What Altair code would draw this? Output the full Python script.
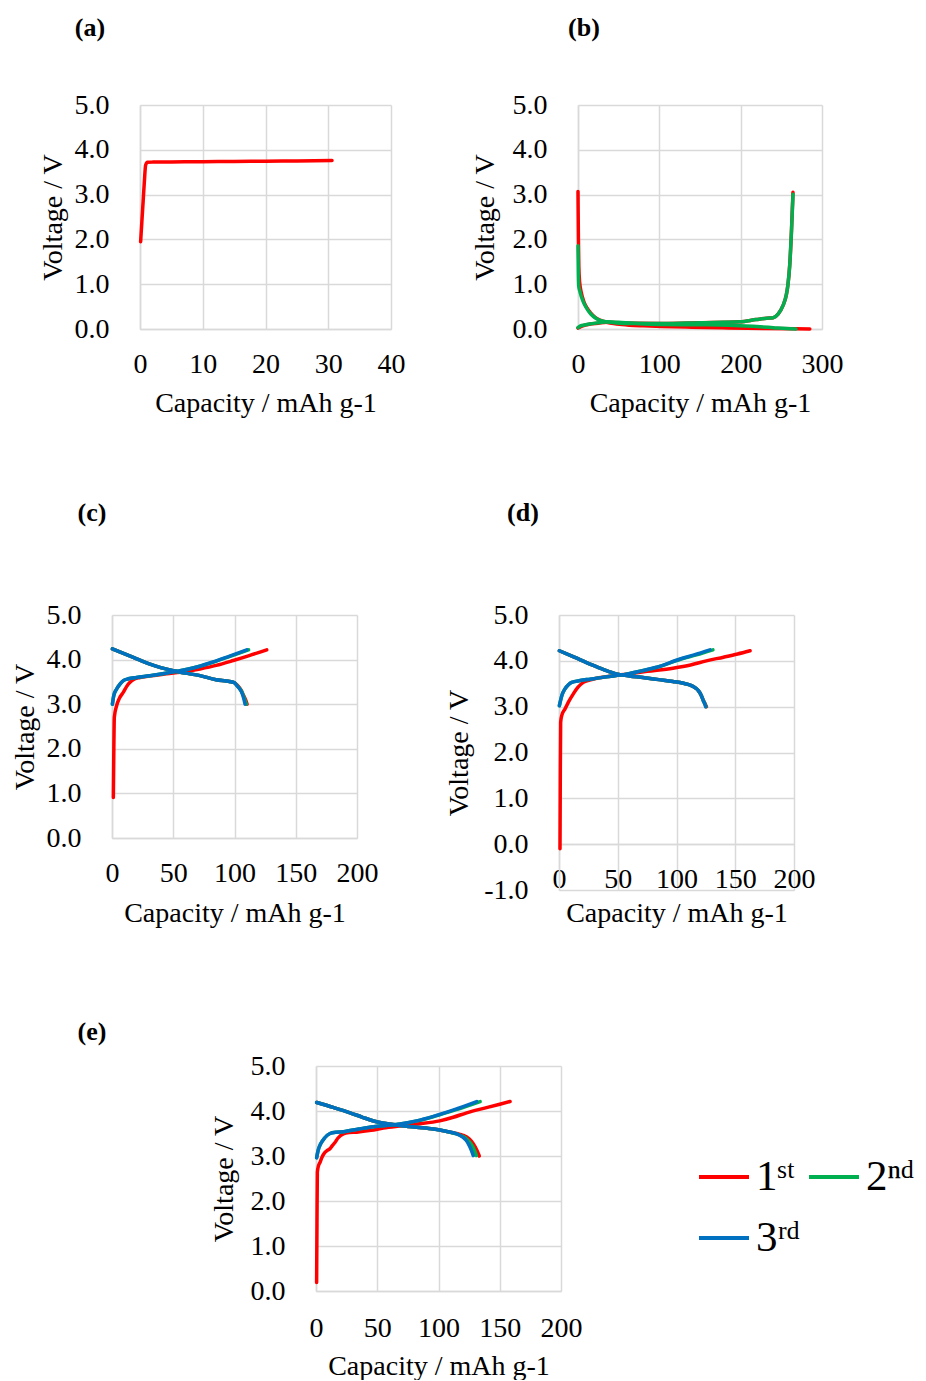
import altair as alt
import pandas as pd

# ---------------- labels / styling lists ----------------
CYCLES = ["1st", "2nd", "3rd"]
CYCLE_LABELS = ["1ˢᵗ", "2ⁿᵈ", "3ʳᵈ"]
COLORS = ["#FF0000", "#00B050", "#0070C0"]
PANEL_LABELS = ["(a)", "(b)", "(c)", "(d)", "(e)"]
X_TITLE = "Capacity / mAh g-1"
Y_TITLE = "Voltage / V"

# ---------------- panel (a) ----------------
A_1C_CAP = [0.1, 0.3, 0.5, 0.7, 0.9, 1.2, 2.0, 5, 10, 15, 20, 25, 30.6]
A_1C_V = [1.95, 2.4, 2.85, 3.3, 3.66, 3.72, 3.725, 3.73, 3.735, 3.74, 3.745, 3.752, 3.76]

# ---------------- panel (b) ----------------
B_1D_CAP = [0, 0.2, 0.5, 1.0, 2, 4, 7, 11, 16, 21, 27, 35, 48, 63, 80, 104, 140, 186, 230, 268, 285]
B_1D_V = [3.07, 2.6, 2.0, 1.4, 1.05, 0.82, 0.62, 0.47, 0.35, 0.26, 0.2, 0.15, 0.11, 0.085, 0.07, 0.055, 0.04, 0.025, 0.012, 0.003, 0.0]
B_1C_CAP = [0, 4, 9, 15, 25, 35, 50, 70, 104, 150, 199, 219, 232, 240, 246, 252, 256, 258, 260.3, 262.4, 264.3]
B_1C_V = [0.02, 0.06, 0.09, 0.11, 0.13, 0.15, 0.14, 0.13, 0.125, 0.14, 0.16, 0.21, 0.24, 0.25, 0.33, 0.52, 0.75, 0.97, 1.42, 2.16, 3.05]
B_2D_CAP = [0, 0.3, 0.8, 2, 4, 6, 10, 16, 22, 27, 35, 51, 70, 104, 150, 186, 215, 240, 256, 268]
B_2D_V = [1.86, 1.35, 0.97, 0.86, 0.73, 0.63, 0.48, 0.33, 0.24, 0.19, 0.16, 0.13, 0.12, 0.1, 0.095, 0.085, 0.06, 0.03, 0.01, 0.0]
B_2C_CAP = [0, 3, 8, 14, 25, 35, 50, 70, 104, 150, 199, 219, 232, 240, 246, 252, 256, 258, 260.3, 262.4, 264.4]
B_2C_V = [0.03, 0.07, 0.09, 0.11, 0.14, 0.16, 0.15, 0.13, 0.12, 0.14, 0.16, 0.21, 0.24, 0.25, 0.33, 0.52, 0.75, 0.97, 1.42, 2.16, 3.01]

# ---------------- panel (c) ----------------
C_1C_CAP = [1.1, 1.5, 1.9, 3.8, 6, 9.3, 12, 14.7, 18, 22.9, 30, 44.6, 60, 71.8, 85, 99, 112, 126.3]
C_1C_V = [0.91, 2.0, 2.71, 2.97, 3.13, 3.27, 3.4, 3.49, 3.56, 3.6, 3.63, 3.68, 3.73, 3.79, 3.87, 3.98, 4.09, 4.22]
C_1D_CAP = [0.3, 17.4, 31, 50, 71.8, 85, 96, 100, 102.5, 105, 107, 109, 110.3]
C_1D_V = [4.24, 4.05, 3.9, 3.75, 3.64, 3.55, 3.51, 3.48, 3.42, 3.33, 3.22, 3.1, 3.0]
C_2C_CAP = [0.3, 1.5, 3.8, 6.5, 9.3, 13.4, 20, 31, 45, 55.5, 70, 83.5, 97, 111.5]
C_2C_V = [3.0, 3.2, 3.34, 3.45, 3.53, 3.57, 3.6, 3.64, 3.7, 3.75, 3.84, 3.95, 4.08, 4.22]
C_2D_CAP = [0.3, 17.4, 31, 50, 71.8, 85, 96, 100, 102, 104.2, 106.2, 108, 109.6]
C_2D_V = [4.24, 4.05, 3.9, 3.75, 3.64, 3.55, 3.51, 3.48, 3.42, 3.35, 3.27, 3.13, 3.0]
C_3C_CAP = [0.3, 1.5, 3.8, 6.5, 9.3, 13.4, 20, 31, 45, 55.5, 70, 82.7, 96, 110]
C_3C_V = [3.0, 3.2, 3.34, 3.45, 3.53, 3.57, 3.6, 3.64, 3.7, 3.75, 3.84, 3.95, 4.08, 4.22]
C_3D_CAP = [0.3, 17.4, 31, 50, 71.8, 85, 96, 100, 101.8, 104, 105.8, 107.5, 108.6]
C_3D_V = [4.24, 4.05, 3.9, 3.75, 3.64, 3.55, 3.51, 3.48, 3.42, 3.35, 3.27, 3.13, 3.0]

# ---------------- panel (d) ----------------
D_1C_CAP = [0.85, 1.1, 1.4, 2.5, 5.1, 8, 12.2, 16, 20.7, 26, 32, 45, 57.4, 75, 97, 112, 125.4, 140, 152, 162.6]
D_1C_V = [-0.1, 1.5, 2.66, 2.82, 2.95, 3.1, 3.28, 3.42, 3.53, 3.58, 3.62, 3.67, 3.71, 3.77, 3.84, 3.91, 4.0, 4.08, 4.15, 4.22]
D_1D_CAP = [0.3, 13, 26.4, 38, 49.9, 60, 69.8, 85, 97, 106, 112.7, 116, 118.6, 121, 123, 124.4, 125.5]
D_1D_V = [4.22, 4.08, 3.93, 3.81, 3.71, 3.67, 3.64, 3.59, 3.55, 3.51, 3.46, 3.41, 3.35, 3.25, 3.13, 3.06, 3.0]
D_2C_CAP = [0.3, 2.5, 5.1, 8, 10.8, 18, 26.4, 40, 57.4, 70, 83.5, 104, 117, 131]
D_2C_V = [3.02, 3.25, 3.39, 3.48, 3.53, 3.57, 3.6, 3.65, 3.71, 3.78, 3.86, 4.04, 4.13, 4.24]
D_2D_CAP = [0.3, 13, 26.4, 38, 49.9, 60, 69.8, 85, 97, 106, 112.7, 116, 118.6, 121, 122.9, 124.2, 125.1]
D_2D_V = [4.22, 4.08, 3.93, 3.81, 3.71, 3.67, 3.64, 3.59, 3.55, 3.51, 3.46, 3.41, 3.35, 3.25, 3.13, 3.06, 3.0]
D_3C_CAP = [0.3, 2.5, 5.1, 8, 10.8, 18, 26.4, 40, 57.4, 70, 83, 103, 115, 128.5]
D_3C_V = [3.02, 3.25, 3.39, 3.48, 3.53, 3.57, 3.6, 3.65, 3.71, 3.78, 3.86, 4.04, 4.13, 4.24]
D_3D_CAP = [0.3, 13, 26.4, 38, 49.9, 60, 69.8, 85, 97, 106, 112.7, 116, 118.6, 121, 122.8, 124, 124.8]
D_3D_V = [4.22, 4.08, 3.93, 3.81, 3.71, 3.67, 3.64, 3.59, 3.55, 3.51, 3.46, 3.41, 3.35, 3.25, 3.13, 3.06, 3.0]

# ---------------- panel (e) ----------------
E_1C_CAP = [0.5, 0.8, 1.1, 2, 3.3, 5, 7.3, 9, 11.4, 13, 15.5, 18, 22.3, 27, 33.2, 45, 55, 70, 82, 101, 112, 123, 140, 158.4]
E_1C_V = [0.19, 1.5, 2.64, 2.78, 2.86, 2.98, 3.08, 3.12, 3.16, 3.22, 3.3, 3.4, 3.49, 3.52, 3.53, 3.57, 3.62, 3.67, 3.71, 3.78, 3.86, 3.96, 4.08, 4.21]
E_1D_CAP = [0.5, 14, 27.8, 38, 49.5, 60, 68.6, 82, 95.8, 106, 114.8, 120, 125, 128.5, 131.5, 133.3]
E_1D_V = [4.19, 4.08, 3.96, 3.86, 3.76, 3.71, 3.68, 3.64, 3.6, 3.55, 3.5, 3.46, 3.38, 3.27, 3.12, 3.0]
E_2C_CAP = [0.5, 2, 3.8, 7, 11.4, 16, 22.3, 35, 46.8, 57, 68.6, 82.5, 96.5, 114.5, 134]
E_2C_V = [2.96, 3.15, 3.27, 3.4, 3.5, 3.53, 3.54, 3.6, 3.65, 3.68, 3.71, 3.78, 3.88, 4.03, 4.21]
E_2D_CAP = [0.5, 14, 27.8, 38, 49.5, 60, 68.6, 82, 95.8, 106, 114.8, 118.5, 121.5, 124, 126.5, 129, 131]
E_2D_V = [4.19, 4.08, 3.96, 3.86, 3.76, 3.71, 3.68, 3.64, 3.6, 3.55, 3.49, 3.45, 3.41, 3.35, 3.27, 3.15, 3.01]
E_3C_CAP = [0.5, 2, 3.8, 7, 11.4, 16, 22.3, 35, 46.8, 57, 68.6, 82, 95.8, 113, 131.2]
E_3C_V = [2.96, 3.15, 3.27, 3.4, 3.5, 3.53, 3.54, 3.6, 3.65, 3.68, 3.71, 3.78, 3.88, 4.03, 4.21]
E_3D_CAP = [0.5, 14, 27.8, 38, 49.5, 60, 68.6, 82, 95.8, 106, 114.8, 118, 120.3, 122.5, 124.4, 126.5, 128.4]
E_3D_V = [4.19, 4.08, 3.96, 3.86, 3.76, 3.71, 3.68, 3.64, 3.6, 3.55, 3.49, 3.45, 3.41, 3.35, 3.27, 3.15, 3.01]

X_TICKS_A = [0, 10, 20, 30, 40]
X_TICKS_B = [0, 100, 200, 300]
X_TICKS_CDE = [0, 50, 100, 150, 200]
Y_TICKS = [0, 1, 2, 3, 4, 5]
Y_TICKS_D = [-1, 0, 1, 2, 3, 4, 5]

FONT = "Liberation Serif"
GRID = "#D9D9D9"


def build_df(segments):
    rows = []
    for cycle, step, caps, volts in segments:
        for i, (c, v) in enumerate(zip(caps, volts)):
            rows.append({"cycle": cycle, "seg": cycle + "-" + step, "idx": i, "cap": c, "v": v})
    return pd.DataFrame(rows)


def panel(df, xdom, xticks, ydom, yticks, w_layout, w_plot, h, label, ldx, ldy,
          ytp, xtp, xlabpad=21, xoffset=0, legend=None):
    xaxis = alt.Axis(values=xticks, format="d", title=X_TITLE,
                     labelFont=FONT, labelFontSize=28, labelColor="black",
                     labelPadding=xlabpad, labelFlush=False, labelOverlap=False,
                     ticks=False, tickSize=0, domainColor=GRID, domainWidth=1.5,
                     gridColor=GRID, gridWidth=1.5,
                     titleFont=FONT, titleFontSize=28, titleFontWeight="normal",
                     titleColor="black", titlePadding=xtp, minExtent=49, maxExtent=49,
                     offset=xoffset)
    yaxis = alt.Axis(values=yticks,
                     labelExpr="(datum.value < 0 ? '-' : '') + format(abs(datum.value), '.1f')",
                     title=Y_TITLE,
                     labelFont=FONT, labelFontSize=28, labelColor="black",
                     labelPadding=31, labelFlush=False, labelOverlap=False,
                     ticks=False, tickSize=0, domainColor=GRID, domainWidth=1.5,
                     gridColor=GRID, gridWidth=1.5,
                     titleFont=FONT, titleFontSize=28, titleFontWeight="normal",
                     titleColor="black", titlePadding=ytp, minExtent=66, maxExtent=66)
    x = alt.X("cap:Q", scale=alt.Scale(domain=xdom, range=[0, w_plot], nice=False, zero=False),
              axis=xaxis)
    y = alt.Y("v:Q", scale=alt.Scale(domain=ydom, nice=False, zero=False), axis=yaxis)
    color = alt.Color("cycle:N", scale=alt.Scale(domain=CYCLES, range=COLORS), legend=legend)
    present = set(df["cycle"])
    layers = []
    for c in CYCLES:
        if c not in present:
            continue
        layers.append(
            alt.Chart(df).transform_filter(alt.datum.cycle == c)
            .mark_line(strokeWidth=3.5, interpolate="monotone", strokeCap="round", strokeJoin="round")
            .encode(x=x, y=y, color=color, detail="seg:N", order="idx:Q")
        )
    lab = alt.Chart(pd.DataFrame({"t": [label]})).mark_text(
        font=FONT, fontSize=26, fontWeight="bold", align="center", baseline="middle", color="black"
    ).encode(x=alt.value(ldx), y=alt.value(ldy), text="t:N")
    return alt.layer(*layers, lab).properties(width=w_layout, height=h)


def spacer(w, h):
    return alt.Chart(pd.DataFrame({"z": [0]})).mark_point(opacity=0, size=1).encode(
        x=alt.value(0), y=alt.value(0)
    ).properties(width=w, height=h)


df_a = build_df([("1st", "c", A_1C_CAP, A_1C_V)])
df_b = build_df([("1st", "d", B_1D_CAP, B_1D_V), ("1st", "c", B_1C_CAP, B_1C_V),
                 ("2nd", "d", B_2D_CAP, B_2D_V), ("2nd", "c", B_2C_CAP, B_2C_V)])
df_c = build_df([("1st", "c", C_1C_CAP, C_1C_V), ("1st", "d", C_1D_CAP, C_1D_V),
                 ("2nd", "c", C_2C_CAP, C_2C_V), ("2nd", "d", C_2D_CAP, C_2D_V),
                 ("3rd", "c", C_3C_CAP, C_3C_V), ("3rd", "d", C_3D_CAP, C_3D_V)])
df_d = build_df([("1st", "c", D_1C_CAP, D_1C_V), ("1st", "d", D_1D_CAP, D_1D_V),
                 ("2nd", "c", D_2C_CAP, D_2C_V), ("2nd", "d", D_2D_CAP, D_2D_V),
                 ("3rd", "c", D_3C_CAP, D_3C_V), ("3rd", "d", D_3D_CAP, D_3D_V)])
df_e = build_df([("1st", "c", E_1C_CAP, E_1C_V), ("1st", "d", E_1D_CAP, E_1D_V),
                 ("2nd", "c", E_2C_CAP, E_2C_V), ("2nd", "d", E_2D_CAP, E_2D_V),
                 ("3rd", "c", E_3C_CAP, E_3C_V), ("3rd", "d", E_3D_CAP, E_3D_V)])

label_expr = " : ".join(
    f"datum.label == '{c}' ? '{l}'" for c, l in zip(CYCLES[:-1], CYCLE_LABELS[:-1])
) + f" : '{CYCLE_LABELS[-1]}'"

legend_e = alt.Legend(orient="none", legendX=381, legendY=84, columns=2, direction="horizontal",
                      title=None, symbolType="stroke", symbolSize=2500, symbolStrokeWidth=4,
                      labelFont=FONT, labelFontSize=43, labelColor="black",
                      labelOffset=5, columnPadding=0, rowPadding=12, padding=0,
                      labelExpr=label_expr)

# grid columns (layout widths): 28 | 176 | 243 | 19 | 244
pa = panel(df_a, [0, 40], X_TICKS_A, [0, 5], Y_TICKS, 176, 251, 224, PANEL_LABELS[0], -50, -77, 7, 11)
pb = panel(df_b, [0, 300], X_TICKS_B, [0, 5], Y_TICKS, 244, 244, 224, PANEL_LABELS[1], 6, -77, 13, 11)
pc = panel(df_c, [0, 200], X_TICKS_CDE, [0, 5], Y_TICKS, 28, 245, 223, PANEL_LABELS[2], -20, -102, 7, 12)
pd_ = panel(df_d, [0, 200], X_TICKS_CDE, [-1, 5], Y_TICKS_D, 19, 235, 275, PANEL_LABELS[3], -36, -102, 20, 6,
            xoffset=-46)
pe = panel(df_e, [0, 200], X_TICKS_CDE, [0, 5], Y_TICKS, 243, 245, 225, PANEL_LABELS[4], -224, -34, 12, 12,
           xlabpad=23, legend=legend_e)

chart = alt.concat(
    spacer(28, 510), pa, spacer(243, 1), spacer(19, 1), pb,
    pc, spacer(176, 451), spacer(243, 1), pd_, spacer(244, 1),
    spacer(28, 1), spacer(176, 1), pe, spacer(19, 1), spacer(244, 1),
    columns=5, spacing=0, bounds="flush", align="each",
).resolve_scale(color="independent").properties(
    padding={"left": 3, "top": 7, "right": 0, "bottom": 0},
    background="white",
).configure_view(stroke="transparent", strokeWidth=0)

chart.save("out.html", embed_options={"renderer": "svg", "actions": False})
